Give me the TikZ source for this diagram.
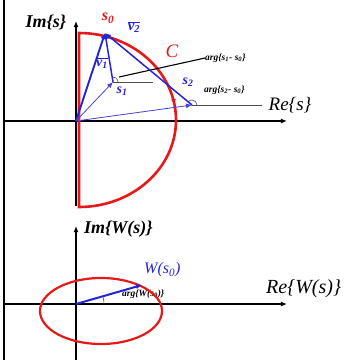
\documentclass[tikz,border=0pt]{standalone}
\usepackage{fontspec}
\setmainfont{Liberation Serif}
\usetikzlibrary{positioning,arrows.meta,decorations.markings}
\definecolor{cRed}{RGB}{230,25,25}
\definecolor{cBlue}{RGB}{35,35,215}
\tikzset{
  axis/.style={line width=2.4pt,-{Latex[length=6pt,width=5pt]}},
  contour/.style={cRed,line width=2.6pt},
  vec/.style={cBlue,line width=1.5pt,-{Latex[length=6pt,width=5pt]}},
  thinvec/.style={cBlue!85,line width=0.8pt,-{Latex[length=6pt,width=5pt]}},
  refline/.style={black!70,line width=0.6pt},
  lbl/.style={inner sep=0pt,font=\bfseries\itshape},
}
\begin{document}
\begin{tikzpicture}[x=1pt,y=-1pt]
    \useasboundingbox (0,0) rectangle (347,360);

        % Vertices
        \coordinate (frameTop) at (4,0);
        \coordinate (frameBot) at (4,360);
        \coordinate (origS) at (76,121);
        \coordinate (reSStart) at (4,121);
        \coordinate (reSEnd) at (287,121);
        \coordinate (imSStart) at (76,206);
        \coordinate (imSEnd) at (76,21);
        \coordinate (cTop) at (79,33);
        \coordinate (s0) at (105,33);
        \coordinate (s1) at (113,82);
        \coordinate (s2) at (192,105);
        \coordinate (s1Ref) at (153,82);
        \coordinate (s2Ref) at (262,105);
        \coordinate (s1Mark) at (119,77);
        \coordinate (origW) at (76,304);
        \coordinate (reWStart) at (4,304);
        \coordinate (reWEnd) at (287,304);
        \coordinate (imWStart) at (76,360);
        \coordinate (imWEnd) at (76,226);
        \coordinate (w0) at (142,285);
        \coordinate (ellC) at (101,311);

        \node[lbl,font=\fontsize{18}{18}\selectfont\bfseries\itshape](imS) at (46,22){Im\{s\}};
        \node[lbl,font=\fontsize{19}{19}\selectfont\itshape](reS) at (290,105){Re\{s\}};
        \node[lbl,cRed,font=\fontsize{16}{16}\selectfont\bfseries\itshape](s0Lbl) at (108,18){s\textsubscript{0}};
        \node[lbl,cBlue,font=\fontsize{15}{15}\selectfont\bfseries\itshape](v2Lbl) at (134,27){$\overline{\mbox{v\textsubscript{2}}}$};
        \node[lbl,cRed,font=\fontsize{19}{19}\selectfont\itshape](cLbl) at (172,51){C};
        \node[lbl,cBlue,font=\fontsize{14}{14}\selectfont\bfseries\itshape](v1Lbl) at (102,63){$\overline{\mbox{v\textsubscript{1}}}$};
        \node[lbl,cBlue,font=\fontsize{14}{14}\selectfont\bfseries\itshape](s1Lbl) at (122,91){s\textsubscript{1}};
        \node[lbl,cBlue,font=\fontsize{14}{14}\selectfont\bfseries\itshape](s2Lbl) at (188,82){s\textsubscript{2}};
        \node[lbl,anchor=west,font=\fontsize{9.5}{9.5}\selectfont\bfseries\itshape](argS1) at (205,58){arg\{s\textsubscript{1}- s\textsubscript{0}\}};
        \node[lbl,anchor=west,font=\fontsize{9.5}{9.5}\selectfont\bfseries\itshape](argS2) at (204,90){arg\{s\textsubscript{2}- s\textsubscript{0}\}};
        \node[lbl,anchor=west,font=\fontsize{18}{18}\selectfont\bfseries\itshape](imW) at (84,229){Im\{W(s)\}};
        \node[lbl,anchor=west,font=\fontsize{20}{20}\selectfont\itshape](reW) at (266,289){Re\{W(s)\}};
        \node[lbl,anchor=west,cBlue,font=\fontsize{16}{16}\selectfont\itshape](w0Lbl) at (144,270){W(s\textsubscript{0})};
        \node[lbl,anchor=west,font=\fontsize{9.5}{9.5}\selectfont\bfseries\itshape](argW) at (122,294){arg\{W(s\textsubscript{0})\}};

        % Edges
        \draw[line width=2.5pt](frameTop) -- (frameBot);
        \draw[axis](reSStart) -- (reSEnd);
        \draw[axis](imSStart) -- (imSEnd);
        \draw[axis](reWStart) -- (reWEnd);
        \draw[axis](imWStart) -- (imWEnd);

        % contour C
        \draw[contour,postaction={decorate},decoration={markings,
              mark=at position 0.28 with {\arrow{Latex[length=6pt,width=5pt]}}}]
            (cTop) arc[start angle=-90,end angle=90,x radius=97,y radius=87] -- cycle;

        \draw[refline](s1) -- (s1Ref);
        \draw[refline](s2) -- (s2Ref);
        \draw[refline](s1) ++(5,0) arc[start angle=0,end angle=-98,radius=5];
        \draw[refline](s2) ++(5,0) arc[start angle=0,end angle=-141,radius=5];
        \draw[line width=1.1pt](s1Mark) -- (argS1.west);

        \draw[vec,line width=1.9pt](origS) -- (s0);
        \draw[vec](s1) -- (s0);
        \draw[vec](s2) -- (s0);
        \draw[thinvec](origS) -- (s1);
        \draw[thinvec](origS) -- (s2);

        % W plane
        \draw[contour,line width=2.2pt](ellC) ellipse[x radius=61,y radius=33];
        \draw[vec,line width=2pt](origW) -- (w0);
        \draw[refline](origW) ++(28,0) arc[start angle=0,end angle=-16,radius=28];

\end{tikzpicture}
\end{document}
